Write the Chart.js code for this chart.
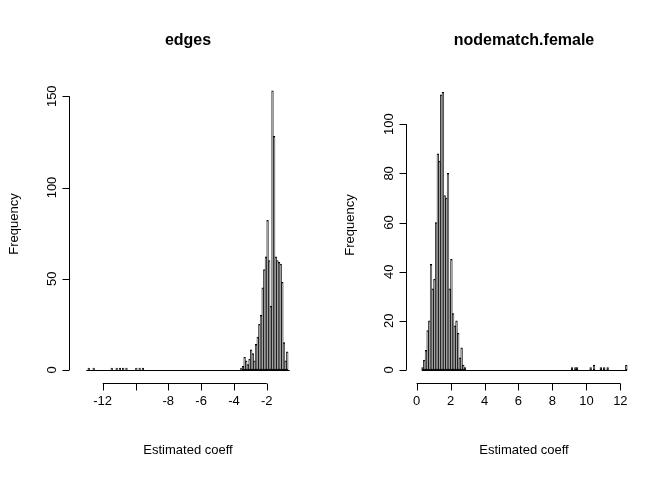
<!DOCTYPE html>
<html lang="en">
<head>
<meta charset="UTF-8">
<script src="https://cdn.jsdelivr.net/npm/chart.js"></script>
<style>
  body { margin: 0; background: #fff; }
  .wrap { display: flex; width: 672px; height: 480px; }
  .wrap div { width: 336px; height: 480px; position: relative; }
</style>
</head>
<body>
<div class="wrap">
  <div><canvas id="edgesChart"></canvas></div>
  <div><canvas id="femaleChart"></canvas></div>
</div>
<script>
// histogram bins are 0.1 wide; each entry = start of the bin range and its counts
const binWidth = 0.1;

const edgesStart = -13.0;
const edgesEnd = -0.6;
const edgesSparse = [[-12.9, 1], [-12.6, 1], [-11.5, 1], [-11.2, 1], [-11.0, 1], [-10.8, 1], [-10.6, 1], [-10.0, 1], [-9.8, 1], [-9.6, 1]];
const edgesMainStart = -3.6;
const edgesMain = [1, 2, 7, 5, 3, 6, 11, 9, 5, 14, 18, 25, 30, 45, 55, 62, 82, 60, 35, 153, 128, 62, 60, 59, 58, 48, 15, 5, 10];
const edgesXTicks = [-12, -10, -8, -6, -4, -2];
const edgesXLabels = ['-12', '', '-8', '-6', '-4', '-2'];
const edgesYTicks = [0, 50, 100, 150];

const femaleStart = 0.3;
const femaleEnd = 12.4;
const femaleSparse = [[9.1, 1], [9.3, 1], [9.4, 1], [10.2, 1], [10.4, 2], [10.8, 1], [11.0, 1], [11.2, 1], [12.3, 2]];
const femaleMainStart = 0.3;
const femaleMain = [1, 4, 8, 16, 20, 43, 33, 37, 60, 88, 85, 112, 113, 71, 70, 80, 33, 45, 23, 18, 20, 15, 5, 9, 2, 1];
const femaleXTicks = [0, 2, 4, 6, 8, 10, 12];
const femaleXLabels = ['0', '2', '4', '6', '8', '10', '12'];
const femaleYTicks = [0, 20, 40, 60, 80, 100];

function buildBins(start, end, mainStart, main, sparse) {
  const n = Math.round((end - start) / binWidth);
  const counts = new Array(n).fill(0);
  const idx = v => Math.round((v - start) / binWidth);
  main.forEach((c, i) => { counts[idx(mainStart) + i] = c; });
  sparse.forEach(([v, c]) => { counts[idx(v)] = c; });
  return counts.map((c, i) => ({ x: start + (i + 0.5) * binWidth, y: c }));
}

const FONT = 'Liberation Sans, Arial, sans-serif';

const rAxes = {
  id: 'rAxes',
  afterDraw(chart, args, o) {
    const ctx = chart.ctx, xs = chart.scales.x, ys = chart.scales.y, a = chart.chartArea;
    ctx.save();
    ctx.strokeStyle = '#000';
    ctx.fillStyle = '#000';
    ctx.lineWidth = 1;
    // zero-height bar baseline
    const y0 = Math.round(ys.getPixelForValue(0)) + 0.5;
    ctx.beginPath();
    ctx.moveTo(xs.getPixelForValue(o.binFrom), y0);
    ctx.lineTo(xs.getPixelForValue(o.binTo), y0);
    ctx.stroke();
    // x axis
    const ax = a.bottom + 13.5;
    ctx.beginPath();
    ctx.moveTo(xs.getPixelForValue(o.xTicks[0]), ax);
    ctx.lineTo(xs.getPixelForValue(o.xTicks[o.xTicks.length - 1]), ax);
    o.xTicks.forEach(t => {
      const p = Math.round(xs.getPixelForValue(t)) + 0.5;
      ctx.moveTo(p, ax); ctx.lineTo(p, ax + 7);
    });
    ctx.stroke();
    ctx.font = '13px ' + FONT;
    ctx.textAlign = 'center';
    ctx.textBaseline = 'top';
    o.xTicks.forEach((t, i) => ctx.fillText(o.xLabels[i], xs.getPixelForValue(t), ax + 11));
    // y axis
    const ay = a.left - 13.5;
    ctx.beginPath();
    ctx.moveTo(ay, ys.getPixelForValue(o.yTicks[0]));
    ctx.lineTo(ay, ys.getPixelForValue(o.yTicks[o.yTicks.length - 1]));
    o.yTicks.forEach(t => {
      const p = Math.round(ys.getPixelForValue(t)) + 0.5;
      ctx.moveTo(ay, p); ctx.lineTo(ay - 7, p);
    });
    ctx.stroke();
    o.yTicks.forEach(t => {
      ctx.save();
      ctx.translate(ay - 11, ys.getPixelForValue(t));
      ctx.rotate(-Math.PI / 2);
      ctx.textBaseline = 'bottom';
      ctx.fillText(String(t), 0, 0);
      ctx.restore();
    });
    // titles
    const cx = (a.left + a.right) / 2;
    ctx.font = 'bold 16px ' + FONT;
    ctx.textBaseline = 'middle';
    ctx.fillText(o.title, cx, 41);
    ctx.font = '13px ' + FONT;
    ctx.fillText('Estimated coeff', cx, 450);
    ctx.save();
    ctx.translate(o.yLabelX, (a.top + a.bottom) / 2);
    ctx.rotate(-Math.PI / 2);
    ctx.fillText('Frequency', 0, 0);
    ctx.restore();
    ctx.restore();
  }
};

function makeHist(id, data, xMin, xMax, yMax, padding, opts) {
  new Chart(document.getElementById(id), {
    type: 'bar',
    data: {
      datasets: [{
        data: data,
        backgroundColor: '#a0a0a0',
        borderColor: '#000',
        borderWidth: 1,
        borderSkipped: false,
        barPercentage: 1,
        categoryPercentage: 1
      }]
    },
    options: {
      responsive: true,
      maintainAspectRatio: false,
      animation: false,
      layout: { padding: padding },
      scales: {
        x: { type: 'linear', min: xMin, max: xMax, display: false, offset: false },
        y: { min: 0, max: yMax, display: false }
      },
      plugins: { legend: { display: false }, tooltip: { enabled: false }, rAxes: opts }
    },
    plugins: [rAxes]
  });
}

makeHist('edgesChart', buildBins(edgesStart, edgesEnd, edgesMainStart, edgesMain, edgesSparse),
  -13.2, -0.4, 160, { left: 83, right: 43, top: 78, bottom: 110 },
  { title: 'edges', xTicks: edgesXTicks, xLabels: edgesXLabels, yTicks: edgesYTicks,
    binFrom: edgesStart, binTo: edgesEnd, yLabelX: 14 });

makeHist('femaleChart', buildBins(femaleStart, femaleEnd, femaleMainStart, femaleMain, femaleSparse),
  0.2, 12.45, 118, { left: 84, right: 44, top: 80, bottom: 110 },
  { title: 'nodematch.female', xTicks: femaleXTicks, xLabels: femaleXLabels, yTicks: femaleYTicks,
    binFrom: femaleStart, binTo: femaleEnd, yLabelX: 14 });
</script>
</body>
</html>
